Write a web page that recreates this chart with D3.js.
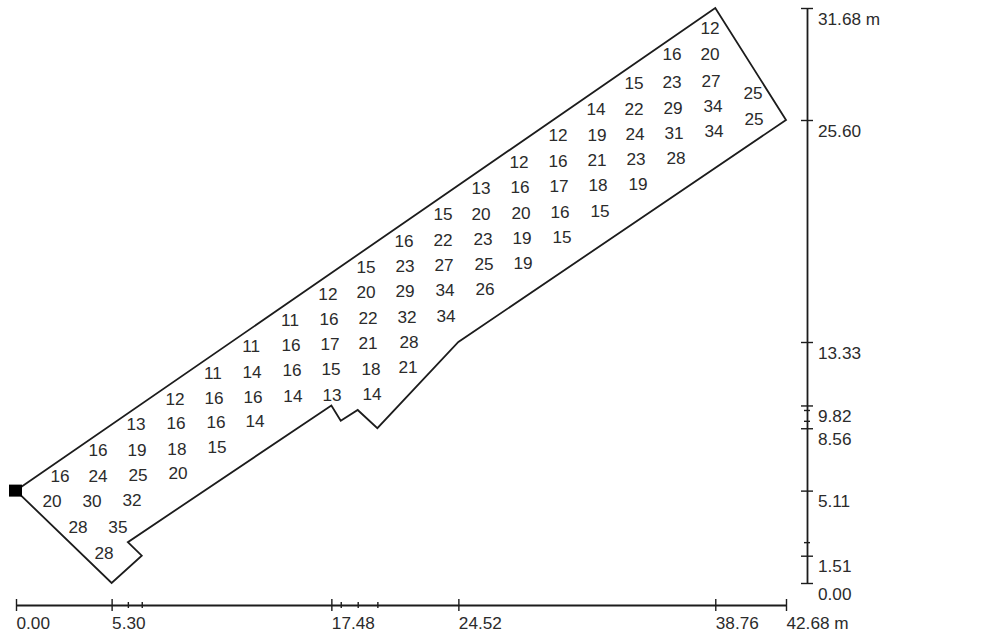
<!DOCTYPE html>
<html>
<head>
<meta charset="utf-8">
<script src="https://cdn.jsdelivr.net/npm/d3@7"></script>
<style>
  body { margin: 0; background: #fff; }
  text { font-family: "Liberation Sans", Arial, sans-serif; font-size: 17.2px; fill: #2b2b2b; }
</style>
</head>
<body>
<div id="chart"></div>
<script>
/* plot outline, metres */
var outlineX = [0, 38.76, 42.68, 24.52, 20.03, 18.94, 18.0, 17.48, 6.2, 6.97, 5.30];
var outlineY = [5.11, 31.68, 25.60, 13.33, 8.56, 9.57, 8.97, 9.82, 2.26, 1.51, 0];

/* axis ticks */
var xMajor = [0, 5.30, 17.48, 24.52, 38.76, 42.68];
var xMinor = [6.2, 6.97, 18.0, 18.94, 20.03];
var yMajor = [0, 1.51, 5.11, 8.56, 9.82, 13.33, 25.60, 31.68];
var yMinor = [2.26, 8.97, 9.57];

/* measured values, one line per row */
var cellValues = [
  [28],
  [28, 35],
  [20, 30, 32],
  [16, 24, 25, 20],
  [16, 19, 18, 15],
  [13, 16, 16, 14],
  [12, 16, 16, 14, 13, 14],
  [11, 14, 16, 15, 18, 21],
  [11, 16, 17, 21, 28],
  [11, 16, 22, 32, 34],
  [12, 20, 29, 34, 26],
  [15, 23, 27, 25, 19],
  [16, 22, 23, 19, 15],
  [15, 20, 20, 16, 15],
  [13, 16, 17, 18, 19],
  [12, 16, 21, 23, 28],
  [12, 19, 24, 31, 34],
  [14, 22, 29, 34],
  [15, 23, 27],
  [16, 20],
  [12],
  [25, 25]
];
var cellX = [
  [4.88],
  [3.44, 5.65],
  [2.00, 4.21, 6.43],
  [2.44, 4.55, 6.76, 8.98],
  [4.55, 6.71, 8.92, 11.14],
  [6.65, 8.87, 11.09, 13.25],
  [8.81, 10.98, 13.14, 15.35, 17.52, 19.73],
  [10.92, 13.08, 15.30, 17.46, 19.68, 21.73],
  [13.03, 15.24, 17.41, 19.51, 21.78],
  [15.19, 17.35, 19.51, 21.67, 23.84],
  [17.29, 19.40, 21.56, 23.78, 26.00],
  [19.40, 21.56, 23.73, 25.94, 28.10],
  [21.51, 23.67, 25.89, 28.05, 30.27],
  [23.67, 25.78, 27.99, 30.16, 32.37],
  [25.78, 27.94, 30.10, 32.26, 34.48],
  [27.88, 30.04, 32.21, 34.37, 36.59],
  [30.04, 32.21, 34.31, 36.47, 38.69],
  [32.15, 34.26, 36.42, 38.64],
  [34.26, 36.36, 38.53],
  [36.36, 38.47],
  [38.47],
  [40.85, 40.91]
];
var cellY = [
  [1.65],
  [3.09, 3.09],
  [4.52, 4.52, 4.58],
  [5.90, 5.90, 5.96, 6.07],
  [7.34, 7.34, 7.39, 7.50],
  [8.77, 8.83, 8.88, 8.94],
  [10.20, 10.26, 10.31, 10.37, 10.42, 10.48],
  [11.64, 11.69, 11.80, 11.86, 11.86, 11.97],
  [13.13, 13.18, 13.24, 13.29, 13.35],
  [14.56, 14.62, 14.67, 14.73, 14.78],
  [16.00, 16.11, 16.16, 16.22, 16.27],
  [17.48, 17.54, 17.60, 17.65, 17.71],
  [18.92, 18.97, 19.03, 19.08, 19.14],
  [20.41, 20.41, 20.46, 20.52, 20.57],
  [21.84, 21.90, 21.95, 22.01, 22.06],
  [23.28, 23.33, 23.39, 23.44, 23.50],
  [24.77, 24.77, 24.82, 24.88, 24.99],
  [26.20, 26.20, 26.25, 26.37],
  [27.63, 27.69, 27.74],
  [29.18, 29.18],
  [30.61],
  [27.08, 25.65]
];

var width = 983, height = 635;
var x = d3.scaleLinear().domain([0, 42.68]).range([16, 786]);
/* the printed axis is not quite even, so it is pinned at three of its ticks */
var y = d3.scaleLinear().domain([0, 13.33, 25.60, 31.68]).range([583, 342, 120, 8]);
var axisY = 605, axisX = 807;
var ink = "#1c1c1c";

var svg = d3.select("#chart").append("svg")
  .attr("width", width)
  .attr("height", height);

var points = outlineX.map(function(d, i) { return [x(d), y(outlineY[i])]; });
svg.append("path")
  .attr("d", d3.line().curve(d3.curveLinearClosed)(points))
  .attr("fill", "none")
  .attr("stroke", ink)
  .attr("stroke-width", 1.8);

/* black marker at the origin corner */
svg.append("rect")
  .attr("x", x(0) - 7)
  .attr("y", y(5.11) - 6)
  .attr("width", 13)
  .attr("height", 12)
  .attr("fill", "#000");

/* cell labels */
cellValues.forEach(function(row, r) {
  svg.selectAll("text.row" + r)
    .data(row)
    .enter()
    .append("text")
    .attr("class", "row" + r)
    .attr("x", function(d, i) { return x(cellX[r][i]); })
    .attr("y", function(d, i) { return y(cellY[r][i]); })
    .attr("dy", "0.35em")
    .attr("text-anchor", "middle")
    .text(function(d) { return d; });
});

var fmt = function(d, last) {
  return d3.format(".2f")(d) + (d === last ? " m" : "");
};

function styleAxis(g, size, horizontal) {
  g.select(".domain").attr("stroke", ink).attr("stroke-width", 1.8);
  g.selectAll(".tick line")
    .attr("stroke", ink)
    .attr("stroke-width", 1.4)
    .attr(horizontal ? "y1" : "x1", -size)
    .attr(horizontal ? "y2" : "x2", size);
}

/* bottom axis */
var xAxis = svg.append("g")
  .attr("transform", "translate(0," + axisY + ")")
  .call(d3.axisBottom(x).tickValues(xMajor).tickSizeOuter(0)
    .tickFormat(function(d) { return fmt(d, 42.68); }));
styleAxis(xAxis, 6, true);
xAxis.selectAll("text")
  .attr("y", 18)
  .attr("dy", "0.35em")
  .attr("text-anchor", "start")
  .attr("fill", null);
xAxis.attr("font-size", null).attr("font-family", null);

var xAxisMinor = svg.append("g")
  .attr("transform", "translate(0," + axisY + ")")
  .call(d3.axisBottom(x).tickValues(xMinor).tickSizeOuter(0).tickFormat(""));
styleAxis(xAxisMinor, 3, true);
xAxisMinor.select(".domain").remove();

/* right axis */
var yAxis = svg.append("g")
  .attr("transform", "translate(" + axisX + ",0)")
  .call(d3.axisRight(y).tickValues(yMajor).tickSizeOuter(0)
    .tickFormat(function(d) { return fmt(d, 31.68); }));
styleAxis(yAxis, 6, false);
yAxis.selectAll("text")
  .attr("x", 11)
  .attr("y", 10)
  .attr("dy", "0.35em")
  .attr("fill", null);
yAxis.attr("font-size", null).attr("font-family", null);

var yAxisMinor = svg.append("g")
  .attr("transform", "translate(" + axisX + ",0)")
  .call(d3.axisRight(y).tickValues(yMinor).tickSizeOuter(0).tickFormat(""));
styleAxis(yAxisMinor, 3, false);
yAxisMinor.select(".domain").remove();
</script>
</body>
</html>
